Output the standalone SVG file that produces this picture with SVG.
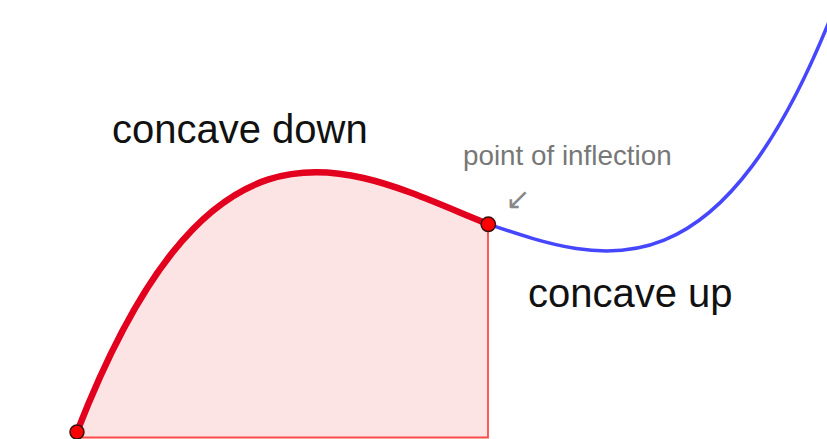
<svg xmlns="http://www.w3.org/2000/svg" width="827" height="439" viewBox="0 0 827 439">
  <style>
    .lbl { font-family: "Liberation Sans", Arial, sans-serif; fill: #111; font-size: 40px; }
    .small { font-family: "Liberation Sans", Arial, sans-serif; fill: #777; font-size: 27.8px; }
    .arrow { font-family: "DejaVu Sans", sans-serif; fill: #888; font-size: 30px; }
    .pt { fill: #FF0000; stroke: #3a1010; stroke-width: 1.5; }
  </style>
  <rect width="827" height="439" fill="#ffffff"/>
  <g id="area">
    <path d="M75.5,437.5 L77,432 C214,80.7 351,169.2 488,224 L488,437.5 Z" fill="#FDE4E4" stroke="#FF4A4A" stroke-width="1.8"/>
  </g>
  <g id="connectors">
    <path id="concave-down-curve" d="M77,432 C214,80.7 351,169.2 488,224" fill="none" stroke="#E2001E" stroke-width="6.5" stroke-linecap="round"/>
    <path id="concave-up-curve" d="M488,224 C605.3,263.9 722.7,304.1 840,-6.3" fill="none" stroke="#4646FF" stroke-width="3.6"/>
  </g>
  <g id="point-start">
    <circle class="pt" cx="77" cy="432" r="7"/>
  </g>
  <g id="point-inflection">
    <circle class="pt" cx="488.3" cy="224.3" r="7.2"/>
  </g>
  <g id="label-down">
    <text class="lbl" x="112" y="143">concave down</text>
  </g>
  <g id="label-up">
    <text class="lbl" x="528" y="307">concave up</text>
  </g>
  <g id="label-inflection">
    <text class="small" x="463" y="165">point of inflection</text>
    <text class="arrow" x="518" y="209" text-anchor="middle">↙</text>
  </g>
</svg>
